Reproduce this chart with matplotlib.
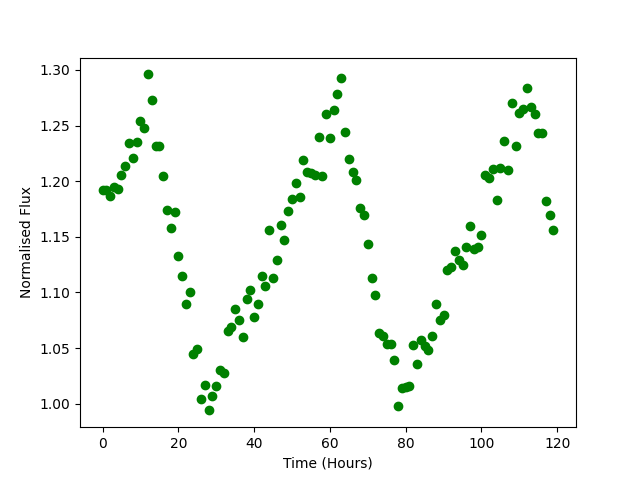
import matplotlib
matplotlib.use("Agg")
import matplotlib.pyplot as plt
import numpy as np

# hourly normalised flux readings
hours = np.arange(120)
flux = [1.192, 1.192, 1.187, 1.195, 1.193, 1.206, 1.214, 1.234, 1.221, 1.235,
        1.254, 1.248, 1.296, 1.273, 1.232, 1.232, 1.205, 1.174, 1.158, 1.172,
        1.133, 1.115, 1.090, 1.100, 1.045, 1.049, 1.004, 1.017, 0.994, 1.007,
        1.016, 1.030, 1.028, 1.065, 1.069, 1.085, 1.075, 1.060, 1.094, 1.102,
        1.078, 1.090, 1.115, 1.106, 1.156, 1.113, 1.129, 1.161, 1.147, 1.173,
        1.184, 1.198, 1.186, 1.219, 1.208, 1.207, 1.206, 1.240, 1.205, 1.260,
        1.239, 1.264, 1.278, 1.293, 1.244, 1.220, 1.208, 1.201, 1.176, 1.170,
        1.144, 1.113, 1.098, 1.064, 1.061, 1.054, 1.054, 1.039, 0.998, 1.014,
        1.015, 1.016, 1.053, 1.036, 1.057, 1.052, 1.048, 1.061, 1.090, 1.075,
        1.080, 1.120, 1.123, 1.137, 1.129, 1.125, 1.141, 1.160, 1.139, 1.141,
        1.152, 1.206, 1.203, 1.211, 1.183, 1.212, 1.236, 1.210, 1.270, 1.232,
        1.261, 1.265, 1.284, 1.267, 1.260, 1.243, 1.243, 1.182, 1.170, 1.156]

fig, ax = plt.subplots(figsize=(6.4, 4.8), dpi=100)
ax.plot(hours, flux, 'o', color='green')
ax.set_xlabel('Time (Hours)')
ax.set_ylabel('Normalised Flux')
plt.savefig('out.png')
